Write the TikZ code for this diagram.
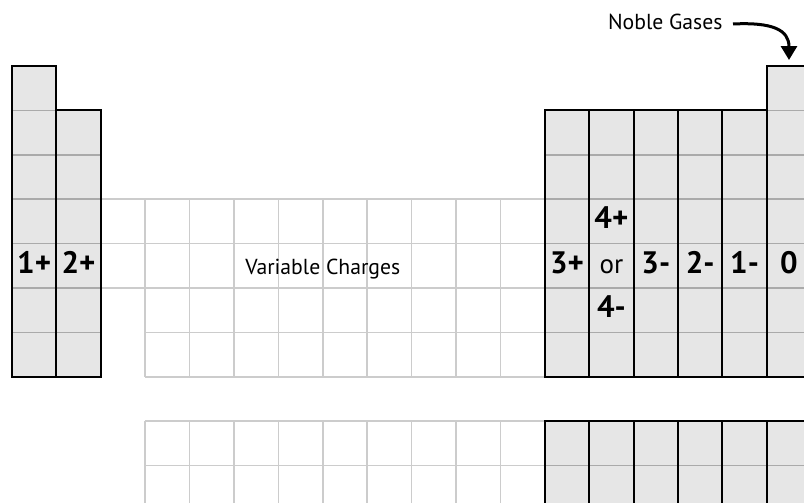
\documentclass[tikz,border=0pt]{standalone}
\usepackage{fontspec}
\setmainfont{PT Sans}
\usetikzlibrary{arrows.meta}
\definecolor{cellfill}{HTML}{E6E6E6}
\definecolor{rowline}{HTML}{AAAAAA}
\definecolor{tline}{HTML}{CCCCCC}
\tikzset{
  colbox/.style={draw=black, line width=2pt},
  rowsep/.style={draw=rowline, line width=1.5pt},
  tgrid/.style={draw=tline, line width=1.5pt},
  chg/.style={font=\bfseries\fontsize{31}{31}\selectfont, inner sep=0pt, anchor=base},
  chgreg/.style={font=\fontsize{27}{27}\selectfont, inner sep=0pt, anchor=base},
  lbl/.style={font=\fontsize{21.7}{22}\selectfont, inner sep=0pt},
  arr/.style={line width=3pt, -{Triangle[length=14pt,width=16pt]}},
}
% column #1 (1-based), from row #2 to row #3
\newcommand{\pcol}[3]{%
  \fill[cellfill] (#1-1,#2-1) rectangle (#1,#3);
  \foreach \yy in {#2,...,#3} \draw[rowsep] (#1-1,\yy) -- (#1,\yy);
  \draw[colbox] (#1-1,#2-1) rectangle (#1,#3);
}
\begin{document}
\begin{tikzpicture}[x=44.4pt, y=-44.4pt]
\useasboundingbox (-0.27027,-1.48649) rectangle (17.83784,9.84234);
\clip (-0.27027,-1.48649) rectangle (17.83784,9.84234);
% transition-metal grid
\foreach \yy in {3,4,5} \draw[tgrid] (2,\yy) -- (12,\yy);
\foreach \yy in {6,7} \draw[tgrid] (3,\yy) -- (12,\yy);
\draw[tgrid] (2,3) -- (2,5);
\foreach \xx in {3,...,12} \draw[tgrid] (\xx,3) -- (\xx,7);
% f-block grid
\foreach \yy in {8,9,10} \draw[tgrid] (3,\yy) -- (12,\yy);
\foreach \xx in {3,...,12} \draw[tgrid] (\xx,8) -- (\xx,10);
% main columns
\pcol{1}{1}{7}
\pcol{2}{2}{7}
\foreach \c in {13,...,17} {\pcol{\c}{2}{7}}
\pcol{18}{1}{7}
% f-block coloured columns
\foreach \c in {13,...,18} {\pcol{\c}{9}{10}}
% labels
\node[chg] (c1) at (0.5,4.669) {1+};
\node[chg] (c2) at (1.5,4.669) {2+};
\node[chg] (c13) at (12.5,4.669) {3+};
\node[chg] (c14a) at (13.5,3.669) {4+};
\node[chgreg] (c14b) at (13.5,4.669) {or};
\node[chg] (c14c) at (13.5,5.669) {4-};
\node[chg] (c15) at (14.5,4.669) {3-};
\node[chg] (c16) at (15.5,4.669) {2-};
\node[chg] (c17) at (16.5,4.669) {1-};
\node[chg] (c18) at (17.5,4.669) {0};
\node[lbl, anchor=base] (vc) at (7,4.691) {Variable Charges};
\node[lbl, anchor=base west] (ng) at (13.42,-0.811) {Noble Gases};
\coordinate (ngs) at (16.239,-0.946);
\coordinate (ngc1) at (17.14,-0.99);
\coordinate (ngc2) at (17.5,-0.81);
\coordinate (ngtip) at (17.5,-0.135);
\draw[arr] (ngs) .. controls (ngc1) and (ngc2) .. (ngtip);
\end{tikzpicture}
\end{document}
